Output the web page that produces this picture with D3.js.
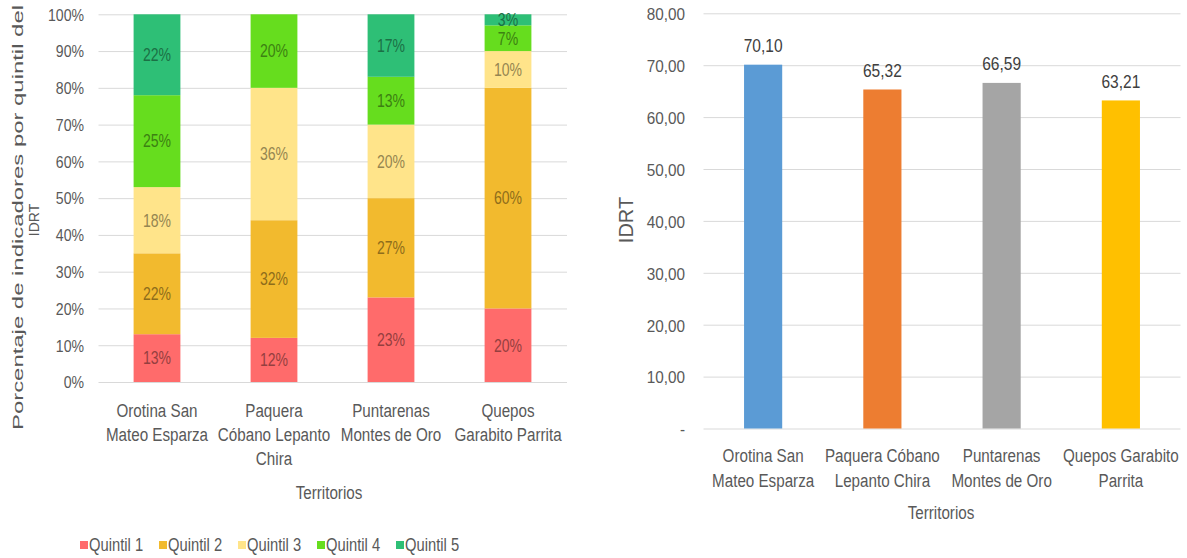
<!DOCTYPE html>
<html>
<head>
<meta charset="utf-8">
<script src="https://cdn.jsdelivr.net/npm/d3@7"></script>
<style>
  body { margin: 0; background: #fff; }
  svg { display: block; }
</style>
</head>
<body>
<div id="chart"></div>
<script>
// data
const territorios = ["Orotina San Mateo Esparza", "Paquera Cóbano Lepanto Chira", "Puntarenas Montes de Oro", "Quepos Garabito Parrita"];
const leftLabels = [["Orotina San", "Mateo Esparza"], ["Paquera", "Cóbano Lepanto", "Chira"], ["Puntarenas", "Montes de Oro"], ["Quepos", "Garabito Parrita"]];
const rightLabels = [["Orotina San", "Mateo Esparza"], ["Paquera Cóbano", "Lepanto Chira"], ["Puntarenas", "Montes de Oro"], ["Quepos Garabito", "Parrita"]];
const quintiles = ["Quintil 1", "Quintil 2", "Quintil 3", "Quintil 4", "Quintil 5"];
const quintil1 = [13, 12, 23, 20];
const quintil2 = [22, 32, 27, 60];
const quintil3 = [18, 36, 20, 10];
const quintil4 = [25, 20, 13, 7];
const quintil5 = [22, 0, 17, 3];
const idrt = [70.10, 65.32, 66.59, 63.21];
const pctTicks = [0, 10, 20, 30, 40, 50, 60, 70, 80, 90, 100];
const idrtTicks = [0, 10, 20, 30, 40, 50, 60, 70, 80];
const idrtTickLabels = ["-", "10,00", "20,00", "30,00", "40,00", "50,00", "60,00", "70,00", "80,00"];

const quintilColors = ["#FF6B6B", "#F2BA2E", "#FFE48A", "#66DD1E", "#2EBF76"];
const idrtColors = ["#5B9BD5", "#ED7D31", "#A5A5A5", "#FFC000"];
const textGray = "#595959";
const gridGray = "#D9D9D9";
const font = "'Liberation Sans', Arial, sans-serif";

const width = 1187;
const height = 558;

const svg = d3.select("#chart")
              .append("svg")
              .attr("width", width)
              .attr("height", height)
              .style("font-family", font);

// text squeezed horizontally, like the picture
function label(g, x, y, str, size, sx, anchor, fill) {
  return g.append("text")
          .attr("transform", `translate(${x},${y}) scale(${sx},1)`)
          .attr("dy", "0.35em")
          .style("font-size", size + "px")
          .style("text-anchor", anchor)
          .style("fill", fill)
          .text(str);
}

/* ---------- left: stacked percentages ---------- */
const rows = territorios.map((t, i) => ({
  t: t,
  "Quintil 1": quintil1[i], "Quintil 2": quintil2[i], "Quintil 3": quintil3[i],
  "Quintil 4": quintil4[i], "Quintil 5": quintil5[i]
}));
const stack = d3.stack().keys(quintiles)(rows);

const xL = d3.scaleBand()
             .domain(territorios)
             .range([98.5, 566.5])
             .paddingInner(0.6)
             .paddingOuter(0.3);
const yL = d3.scaleLinear()
             .domain([0, 100])
             .range([382, 14.3]);
const colorQ = d3.scaleOrdinal().domain(quintiles).range(quintilColors);

const left = svg.append("g");

const yAxisL = left.append("g")
                   .attr("transform", "translate(98.5,0)")
                   .call(d3.axisLeft(yL)
                           .tickValues(pctTicks)
                           .tickSize(-(567 - 98.5))
                           .tickFormat(d => d + "%"));
yAxisL.select(".domain").remove();
yAxisL.selectAll("line").attr("stroke", gridGray);
yAxisL.selectAll("text")
      .attr("x", 0).attr("dy", null)
      .attr("transform", "translate(-14.5,0) scale(0.88,1)")
      .attr("dominant-baseline", "central")
      .style("font-size", "16px")
      .style("font-family", font)
      .style("fill", textGray);

const layer = left.selectAll(".layer")
                  .data(stack)
                  .enter()
                  .append("g")
                  .attr("fill", d => colorQ(d.key));

layer.selectAll("rect")
     .data(d => d)
     .enter()
     .append("rect")
     .attr("x", d => xL(d.data.t))
     .attr("y", d => yL(d[1]))
     .attr("width", xL.bandwidth())
     .attr("height", d => yL(d[0]) - yL(d[1]));

stack.forEach(s => {
  const c = d3.color(colorQ(s.key)).darker(1.5).formatHex();
  s.forEach(d => {
    const v = d[1] - d[0];
    if (v <= 0) return;
    label(left, xL(d.data.t) + xL.bandwidth() / 2, yL((d[0] + d[1]) / 2),
          v + "%", 18, 0.78, "middle", c);
  });
});

territorios.forEach((t, i) => {
  leftLabels[i].forEach((line, j) => {
    label(left, xL(t) + xL.bandwidth() / 2, 410 + j * 24, line, 19, 0.8, "middle", textGray);
  });
});

label(left, 329, 492, "Territorios", 19, 0.8, "middle", textGray);

left.append("text")
    .attr("transform", "translate(18,217.5) rotate(-90)")
    .attr("dy", "0.35em")
    .attr("textLength", 425)
    .attr("lengthAdjust", "spacingAndGlyphs")
    .style("font-size", "14px")
    .style("text-anchor", "middle")
    .style("fill", textGray)
    .text("Porcentaje de  indicadores  por quintil del");

left.append("text")
    .attr("transform", "translate(34,220) rotate(-90)")
    .attr("dy", "0.35em")
    .style("font-size", "14px")
    .style("text-anchor", "middle")
    .style("fill", textGray)
    .text("IDRT");

// legend
quintiles.forEach((q, i) => {
  const lx = 80 + i * 79;
  left.append("rect")
      .attr("x", lx).attr("y", 541)
      .attr("width", 8).attr("height", 8)
      .attr("fill", colorQ(q));
  label(left, lx + 9, 545, q, 18, 0.82, "start", textGray);
});

/* ---------- right: IDRT bars ---------- */
const xR = d3.scaleBand()
             .domain(territorios)
             .range([703.5, 1180.5])
             .paddingInner(0.68)
             .paddingOuter(0.34);
const yR = d3.scaleLinear()
             .domain([0, 80])
             .range([428.5, 13.3]);

const right = svg.append("g");

const yAxisR = right.append("g")
                    .attr("transform", "translate(703.5,0)")
                    .call(d3.axisLeft(yR)
                            .tickValues(idrtTicks)
                            .tickSize(-(1180.5 - 703.5))
                            .tickFormat((d, i) => idrtTickLabels[i]));
yAxisR.select(".domain").remove();
yAxisR.selectAll("line").attr("stroke", gridGray);
yAxisR.selectAll("text")
      .attr("x", 0).attr("dy", null)
      .attr("transform", "translate(-18.5,0) scale(0.9,1)")
      .attr("dominant-baseline", "central")
      .style("font-size", "17px")
      .style("font-family", font)
      .style("fill", textGray);

right.selectAll(".bar")
     .data(idrt)
     .enter()
     .append("rect")
     .attr("class", "bar")
     .attr("x", (d, i) => xR(territorios[i]))
     .attr("y", d => yR(d))
     .attr("width", xR.bandwidth())
     .attr("height", d => yR(0) - yR(d))
     .attr("fill", (d, i) => idrtColors[i]);

idrt.forEach((v, i) => {
  label(right, xR(territorios[i]) + xR.bandwidth() / 2, yR(v) - 19,
        v.toFixed(2).replace(".", ","), 18.5, 0.84, "middle", "#404040");
});

territorios.forEach((t, i) => {
  rightLabels[i].forEach((line, j) => {
    label(right, xR(t) + xR.bandwidth() / 2, 455 + j * 25, line, 19, 0.8, "middle", textGray);
  });
});

label(right, 941, 512, "Territorios", 19, 0.8, "middle", textGray);

right.append("text")
     .attr("transform", "translate(626,220) rotate(-90)")
     .attr("dy", "0.35em")
     .style("font-size", "20px")
     .style("text-anchor", "middle")
     .style("fill", textGray)
     .text("IDRT");
</script>
</body>
</html>
